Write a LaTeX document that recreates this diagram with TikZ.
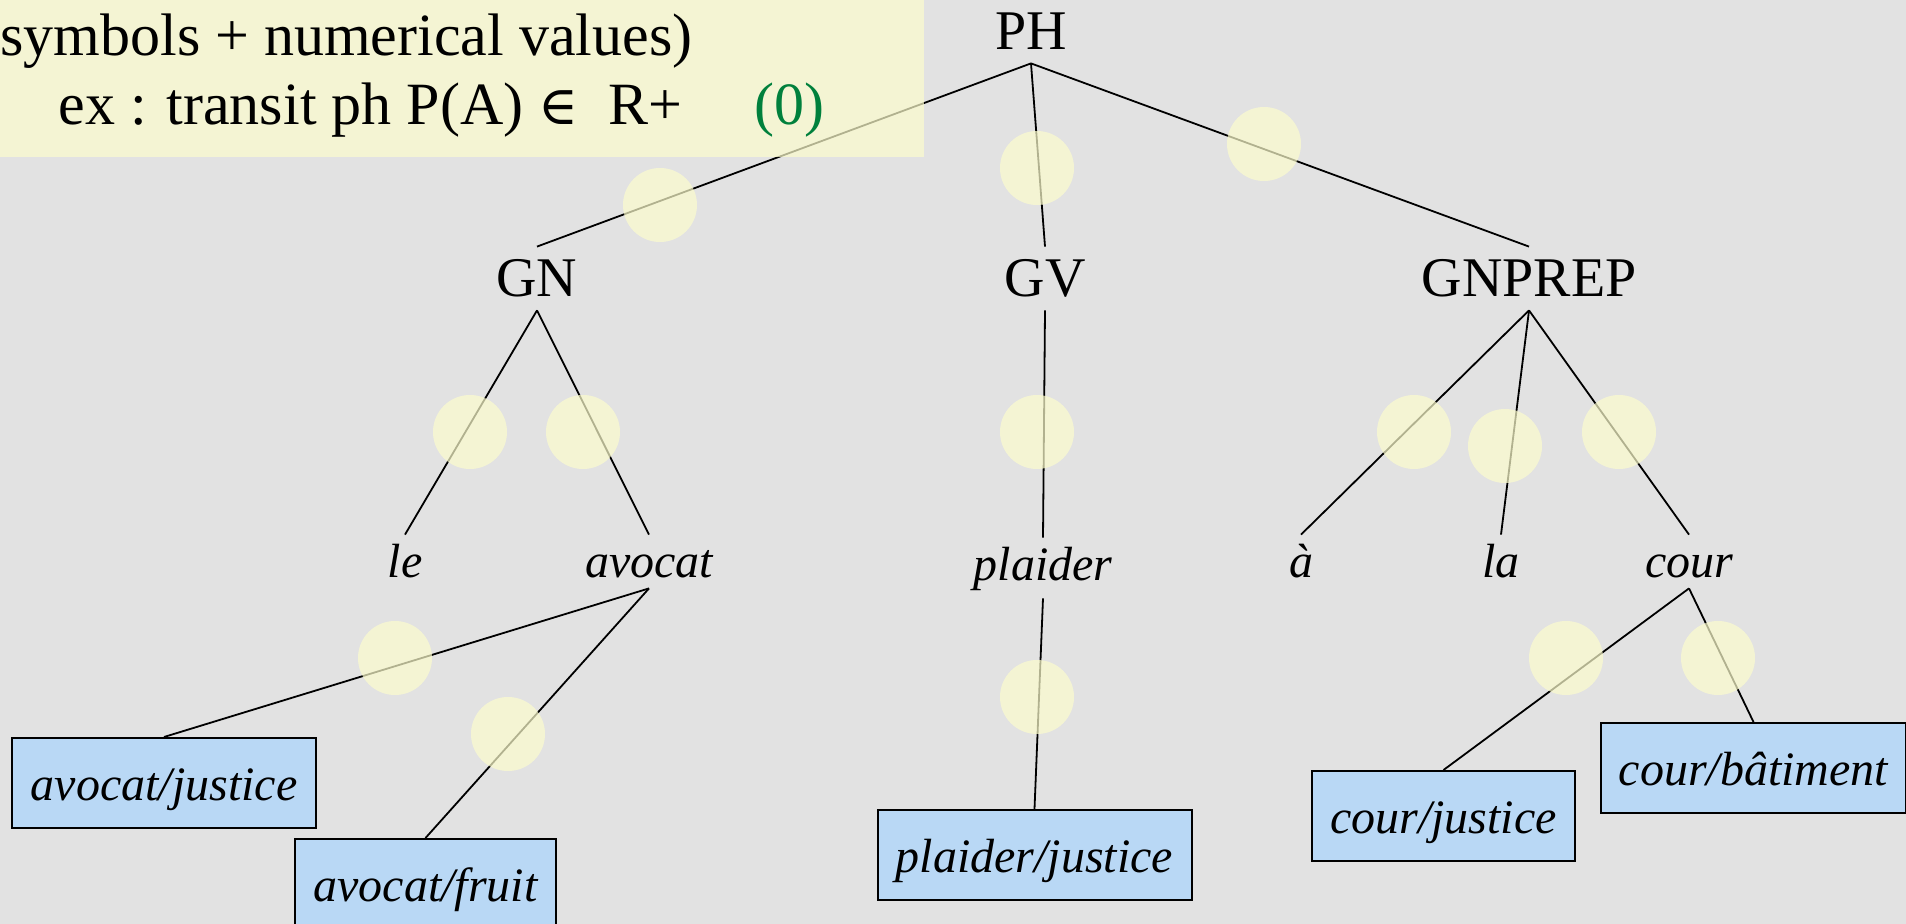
\documentclass[tikz,border=0pt]{standalone}
\usepackage{fontspec}
\setmainfont{Liberation Serif}
\newfontfamily\symfnt{DejaVu Serif}
\definecolor{bgcol}{RGB}{226,226,226}
\definecolor{hlfill}{RGB}{253,253,205}
\definecolor{boxblue}{RGB}{185,216,245}
\definecolor{zgreen}{RGB}{0,128,60}
\begin{document}
\begin{tikzpicture}[x=0.5pt,y=-0.5pt,
  cat/.style={font=\fontsize{28}{30}\selectfont, anchor=base, text height=18.5pt, text depth=0pt, inner xsep=2pt, inner ysep=6.5pt},
  word/.style={font=\fontsize{24}{26}\selectfont\itshape, anchor=base, text height=16.5pt, text depth=0pt, inner xsep=2pt, inner ysep=5pt},
  sense/.style={draw=black, line width=1pt, fill=boxblue, font=\fontsize{24}{26}\selectfont\itshape, text height=20pt, text depth=3pt, minimum height=45pt, inner sep=0pt},
  branch/.style={draw=black, line width=0.9pt},
  hl/.style={fill=hlfill, fill opacity=0.7},
  boxtext/.style={font=\fontsize{30}{32}\selectfont, anchor=base west, inner sep=0pt},
]
\fill[bgcol] (0,0) rectangle (1906,924);
\useasboundingbox (0,0) rectangle (1906,924);

% tree nodes
\node[cat] (PH) at (1031,50) {PH};
\node[cat] (GN) at (537,297) {GN};
\node[cat] (GV) at (1045,297) {GV};
\node[cat] (GNPREP) at (1529,297) {GNPREP};

\node[word] (le) at (405,578) {le};
\node[word] (avocat) at (649,578) {avocat};
\node[word, text depth=3.5pt] (plaider) at (1043,581) {plaider};
\node[word] (a) at (1301,578) {à};
\node[word] (la) at (1501,578) {la};
\node[word] (cour) at (1689,578) {cour};

\node[sense, minimum width=152pt] (sAJ) at (164,783) {avocat/justice};
\node[sense, minimum width=130.5pt] (sAF) at (425.5,884) {avocat/fruit};
\node[sense, minimum width=157pt] (sPJ) at (1034.5,855) {plaider/justice};
\node[sense, minimum width=131.5pt] (sCJ) at (1443.5,816) {cour/justice};
\node[sense, minimum width=152.5pt] (sCB) at (1753.5,768) {cour/bâtiment};

% branches
\draw[branch] (PH.south) -- (GN.north);
\draw[branch] (PH.south) -- (GV.north);
\draw[branch] (PH.south) -- (GNPREP.north);
\draw[branch] (GN.south) -- (le.north);
\draw[branch] (GN.south) -- (avocat.north);
\draw[branch] (GV.south) -- (plaider.north);
\draw[branch] (GNPREP.south) -- (a.north);
\draw[branch] (GNPREP.south) -- (la.north);
\draw[branch] (GNPREP.south) -- (cour.north);
\draw[branch] (avocat.south) -- (sAJ.north);
\draw[branch] (avocat.south) -- (sAF.north);
\draw[branch] (plaider.south) -- (sPJ.north);
\draw[branch] (cour.south) -- (sCJ.north);
\draw[branch] (cour.south) -- (sCB.north);

% highlight discs
\foreach \p in {(660,205),(1037,168),(1264,144),(470,432),(583,432),(1037,432),(1414,432),(1505,446),(1619,432),(395,658),(508,734),(1037,697),(1566,658),(1718,658)}
  \fill[hl] \p circle[radius=18.5pt];

% note box
\fill[hl] (0,0) rectangle (924,157);
\node[boxtext] (n1) at (0,56) {symbols + numerical values)};
\node[boxtext] (n2) at (58,125) {ex : transit ph P(A) {\symfnt\fontsize{27}{30}\selectfont ∈}\ \ R+};
\node[boxtext, text=zgreen] (n3) at (754,125) {(0)};
\end{tikzpicture}
\end{document}
